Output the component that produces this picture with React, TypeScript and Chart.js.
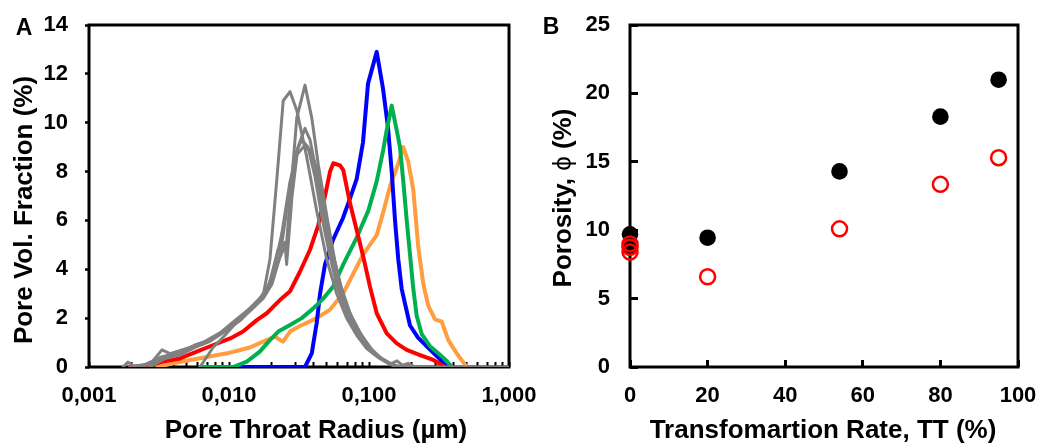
import React, { useEffect, useRef } from "react";
import { Chart, registerables } from "chart.js";
Chart.register(...registerables);

const FONT = '"Liberation Sans", Arial, Helvetica, sans-serif';

// ---------- Panel A : pore throat radius distributions ----------
const majorRadiusTicks = [0.001, 0.01, 0.1, 1];
const majorRadiusLabels = ["0,001", "0,010", "0,100", "1,000"];
const minorMultipliers = [1, 2, 3, 4, 5, 6, 7, 8, 9];
const fractionTicks = [0, 2, 4, 6, 8, 10, 12, 14];

const blueRadius = [0.0107, 0.0349, 0.039, 0.0423, 0.0447, 0.0485, 0.0553, 0.0652, 0.0732, 0.0817, 0.0906, 0.0984, 0.1135, 0.1259, 0.1367, 0.1453, 0.1534, 0.1619, 0.1712, 0.1807, 0.1963, 0.2239, 0.2639, 0.3111, 0.3607];
const blueFraction = [0, 0, 0.56, 1.8, 3.0, 4.2, 5.2, 6.1, 6.9, 7.7, 9.2, 11.6, 12.9, 11.4, 9.8, 8.0, 6.0, 4.4, 3.2, 2.6, 1.7, 1.2, 0.8, 0.4, 0];

const greenRadius = [0.00621, 0.0107, 0.0134, 0.0166, 0.0196, 0.0225, 0.0273, 0.0331, 0.04, 0.0472, 0.0556, 0.0655, 0.0817, 0.0989, 0.1135, 0.1265, 0.1338, 0.1453, 0.1577, 0.1665, 0.1758, 0.1859, 0.1963, 0.2072, 0.2191, 0.2379, 0.2727, 0.3215, 0.3589, 0.3896];
const greenFraction = [0, 0, 0.22, 0.63, 1.1, 1.45, 1.72, 2.0, 2.4, 2.8, 3.3, 4.2, 5.3, 6.4, 7.6, 8.9, 9.7, 10.7, 9.7, 9.0, 7.6, 6.0, 4.6, 3.2, 2.1, 1.35, 0.85, 0.5, 0.25, 0];

const orangeRadius = [0.00306, 0.00398, 0.00621, 0.00968, 0.0141, 0.0175, 0.0213, 0.0243, 0.0273, 0.0321, 0.0423, 0.0527, 0.0652, 0.0769, 0.0906, 0.1135, 0.1259, 0.1413, 0.1611, 0.1758, 0.1908, 0.2072, 0.225, 0.2443, 0.2652, 0.296, 0.3306, 0.3685, 0.4231, 0.4988];
const orangeFraction = [0, 0.15, 0.36, 0.56, 0.8, 1.04, 1.24, 1.04, 1.45, 1.68, 2.0, 2.35, 3.0, 3.8, 4.6, 5.4, 6.3, 7.4, 8.3, 9.0, 8.4, 7.25, 4.9, 3.4, 2.5, 1.95, 1.86, 1.1, 0.56, 0];

const redRadius = [0.00196, 0.00273, 0.00339, 0.00447, 0.00588, 0.00773, 0.0102, 0.0126, 0.0158, 0.0186, 0.0231, 0.0273, 0.0321, 0.0379, 0.0434, 0.0485, 0.0527, 0.0556, 0.0621, 0.0655, 0.0732, 0.0817, 0.0911, 0.1016, 0.1135, 0.1338, 0.1577, 0.1859, 0.2314, 0.288, 0.3491];
const redFraction = [0, 0.07, 0.22, 0.35, 0.63, 0.9, 1.17, 1.45, 1.92, 2.2, 2.74, 3.1, 3.9, 4.8, 5.8, 7.0, 8.0, 8.34, 8.25, 8.06, 6.7, 5.6, 4.5, 3.29, 2.2, 1.38, 0.97, 0.7, 0.49, 0.29, 0];

const gray1Radius = [0.00175, 0.0019, 0.00213, 0.00273, 0.00332, 0.00379, 0.00527, 0.00674, 0.00863, 0.011, 0.0141, 0.0175, 0.0196, 0.0219, 0.0244, 0.0273, 0.0305, 0.0359, 0.0423, 0.0499, 0.0588, 0.0693, 0.0817, 0.0963, 0.1159, 0.1367, 0.1559, 1.0];
const gray1Fraction = [0, 0.2, 0, 0.1, 0.7, 0.55, 0.8, 1.05, 1.4, 1.9, 2.4, 2.9, 4.4, 7.6, 10.9, 11.27, 10.5, 8.6, 6.4, 4.4, 3.0, 2.0, 1.3, 0.75, 0.4, 0.15, 0, 0];

const gray2Radius = [0.00196, 0.00251, 0.00322, 0.00411, 0.00527, 0.00674, 0.00863, 0.011, 0.0141, 0.0175, 0.0203, 0.0231, 0.0258, 0.0305, 0.0349, 0.039, 0.0434, 0.0499, 0.0572, 0.0652, 0.0769, 0.0906, 0.1068, 0.1259, 0.1484, 0.1665];
const gray2Fraction = [0, 0.1, 0.3, 0.5, 0.75, 1.0, 1.35, 1.8, 2.3, 2.8, 3.4, 4.5, 5.1, 10.2, 11.54, 10.2, 8.3, 6.2, 4.3, 2.9, 1.9, 1.2, 0.65, 0.3, 0.1, 0];

const gray3Radius = [0.00231, 0.00322, 0.00447, 0.00572, 0.00732, 0.00936, 0.012, 0.0153, 0.019, 0.0224, 0.0251, 0.0258, 0.0282, 0.0311, 0.0349, 0.0379, 0.0423, 0.0485, 0.0553, 0.0631, 0.0732, 0.0863, 0.1016, 0.1198, 0.1413, 0.1585, 0.1749, 0.1963];
const gray3Fraction = [0, 0.4, 0.6, 0.9, 1.1, 1.5, 2.0, 2.5, 3.2, 4.8, 5.1, 4.2, 7.0, 9.0, 9.77, 9.3, 7.9, 6.0, 4.4, 3.1, 2.0, 1.3, 0.75, 0.35, 0.12, 0.25, 0.05, 0];

const gray4Radius = [0.00273, 0.00349, 0.00447, 0.00572, 0.00732, 0.00936, 0.012, 0.0153, 0.019, 0.0231, 0.0264, 0.0296, 0.0331, 0.0367, 0.0411, 0.0462, 0.0527, 0.0601, 0.0696, 0.0821, 0.0968, 0.114, 0.1367, 0.1611, 0.1899, 0.2131];
const gray4Fraction = [0, 0.35, 0.5, 0.8, 1.05, 1.45, 1.9, 2.5, 3.3, 4.5, 6.8, 8.7, 9.3, 9.0, 7.8, 6.1, 4.5, 3.2, 2.2, 1.4, 0.85, 0.45, 0.18, 0, 0.15, 0];

const gray5Radius = [0.00621, 0.00769, 0.00936, 0.0116, 0.0141, 0.0172, 0.0203, 0.0239, 0.0273, 0.0306, 0.0339, 0.0379, 0.0432, 0.0485, 0.0553, 0.0631, 0.0732, 0.0863, 0.1016, 0.1198, 0.1413, 0.1665];
const gray5Fraction = [0, 0.8, 1.3, 1.9, 2.4, 2.9, 3.6, 5.5, 7.6, 8.7, 9.0, 8.9, 8.0, 6.3, 4.6, 3.3, 2.2, 1.4, 0.8, 0.4, 0.15, 0];

// ---------- Panel B : porosity vs transformation rate ----------
const ttTicks = [0, 20, 40, 60, 80, 100];
const porosityTicks = [0, 5, 10, 15, 20, 25];
const ttFilled = [0, 0, 20, 54, 80, 95];
const porosityFilled = [9.7, 8.8, 9.45, 14.3, 18.3, 21.0];
const ttOpen = [0, 0, 0, 20, 54, 80, 95];
const porosityOpen = [9.0, 8.75, 8.4, 6.6, 10.1, 13.35, 15.3];

const zip = (xs: number[], ys: number[]) => xs.map((x, i) => ({ x, y: ys[i] }));

const radiusTickValues: number[] = [];
majorRadiusTicks.slice(0, 3).forEach((m) => minorMultipliers.forEach((k) => radiusTickValues.push(+(m * k).toPrecision(6))));
radiusTickValues.push(majorRadiusTicks[3]);

const radiusLabel = (v: number) => {
  const i = majorRadiusTicks.findIndex((m) => Math.abs(v / m - 1) < 1e-6);
  return i >= 0 ? majorRadiusLabels[i] : "";
};

const noScalePadding = (s: any) => {
  s.paddingLeft = 0;
  s.paddingRight = 0;
  s.paddingTop = 0;
  s.paddingBottom = 0;
};

const boxPlugin = {
  id: "box",
  beforeDatasetsDraw(chart: any) {
    const { ctx, chartArea } = chart;
    const { left, top, right, bottom } = chartArea;
    ctx.save();
    ctx.lineWidth = 3;
    ctx.strokeStyle = "#000";
    ctx.strokeRect(left, top, right - left, bottom - top);
    ctx.restore();
  },
};

type Seg = { t: string; bold?: boolean };
type TextItem = { parts: Seg[]; x: number; y: number; size: number; rotate?: boolean };
const textPlugin = (items: TextItem[]) => ({
  id: "texts",
  afterDraw(chart: any) {
    const ctx = chart.ctx;
    ctx.save();
    ctx.fillStyle = "#000";
    ctx.textAlign = "left";
    ctx.textBaseline = "middle";
    for (const it of items) {
      const fontOf = (s: Seg) => `${s.bold === false ? "normal" : "bold"} ${it.size}px ${FONT}`;
      let total = 0;
      const widths = it.parts.map((s) => {
        ctx.font = fontOf(s);
        const w = ctx.measureText(s.t).width;
        total += w;
        return w;
      });
      ctx.save();
      ctx.translate(it.x, it.y);
      if (it.rotate) ctx.rotate(-Math.PI / 2);
      let cx = -total / 2;
      it.parts.forEach((s, i) => {
        ctx.font = fontOf(s);
        ctx.fillText(s.t, cx, 0);
        cx += widths[i];
      });
      ctx.restore();
    }
    ctx.restore();
  },
});

const tickFont = { family: FONT, size: 22, weight: "bold" as const };

function PanelA() {
  const ref = useRef<HTMLCanvasElement>(null);
  useEffect(() => {
    const gray = "#808080";
    const grayRuns = [
      [gray1Radius, gray1Fraction],
      [gray2Radius, gray2Fraction],
      [gray3Radius, gray3Fraction],
      [gray4Radius, gray4Fraction],
      [gray5Radius, gray5Fraction],
    ];
    const datasets: any[] = [
      ...grayRuns.map(([r, f]) => ({ data: zip(r, f), borderColor: gray, borderWidth: 3 })),
      { data: zip(redRadius, redFraction), borderColor: "#ff0000", borderWidth: 4 },
      { data: zip(greenRadius, greenFraction), borderColor: "#00b050", borderWidth: 4 },
      { data: zip(blueRadius, blueFraction), borderColor: "#0000ff", borderWidth: 4 },
      { data: zip(orangeRadius, orangeFraction), borderColor: "#ff9d3f", borderWidth: 4 },
    ];
    const chart = new Chart(ref.current!, {
      type: "line",
      data: { datasets },
      options: {
        animation: false,
        responsive: false,
        events: [],
        layout: { padding: { top: 25, right: 36, left: 0, bottom: 0 } },
        elements: { point: { radius: 0 }, line: { tension: 0, borderJoinStyle: "round", borderCapStyle: "round" } },
        plugins: { legend: { display: false }, tooltip: { enabled: false } },
        scales: {
          x: {
            type: "logarithmic",
            min: 0.001,
            max: 1,
            afterBuildTicks: (s: any) => {
              s.ticks = radiusTickValues.map((v) => ({ value: v }));
            },
            afterFit: (s: any) => {
              s.height = 77;
              noScalePadding(s);
            },
            border: { display: false },
            grid: { drawOnChartArea: false, drawTicks: true, tickLength: -5, tickWidth: 2, tickColor: "#000" },
            ticks: {
              autoSkip: false,
              maxRotation: 0,
              minRotation: 0,
              padding: 21,
              color: "#000",
              font: tickFont,
              callback: (v: any) => radiusLabel(Number(v)),
            },
          },
          y: {
            min: 0,
            max: 14,
            afterBuildTicks: (s: any) => {
              s.ticks = fractionTicks.map((v) => ({ value: v }));
            },
            afterFit: (s: any) => {
              s.width = 89;
              noScalePadding(s);
            },
            border: { display: false },
            grid: { drawOnChartArea: false, drawTicks: true, tickLength: 4, tickWidth: 2.5, tickColor: "#000" },
            ticks: { padding: 17, color: "#000", font: tickFont },
          },
        },
      },
      plugins: [
        boxPlugin,
        textPlugin([
          { parts: [{ t: "A" }], x: 24, y: 29, size: 23 },
          { parts: [{ t: "Pore Throat Radius (µm)" }], x: 316, y: 431, size: 26 },
          { parts: [{ t: "Pore Vol. Fraction (%)" }], x: 25, y: 210, size: 26, rotate: true },
        ]),
      ],
    });
    return () => chart.destroy();
  }, []);
  return <canvas ref={ref} width={545} height={444} style={{ position: "absolute", left: 0, top: 0 }} />;
}

function PanelB() {
  const ref = useRef<HTMLCanvasElement>(null);
  useEffect(() => {
    const chart = new Chart(ref.current!, {
      type: "scatter",
      data: {
        datasets: [
          {
            data: zip(ttOpen, porosityOpen),
            clip: false,
            pointRadius: 7.5,
            pointBorderWidth: 2.5,
            pointBorderColor: "#ff0000",
            pointBackgroundColor: "rgba(0,0,0,0)",
          },
          {
            data: zip(ttFilled, porosityFilled),
            clip: false,
            pointRadius: 8.3,
            pointBorderWidth: 0,
            pointBackgroundColor: "#000",
            pointBorderColor: "#000",
          },
        ],
      },
      options: {
        animation: false,
        responsive: false,
        events: [],
        layout: { padding: { top: 25, right: 20, left: 0, bottom: 0 } },
        plugins: { legend: { display: false }, tooltip: { enabled: false } },
        scales: {
          x: {
            type: "linear",
            min: 0,
            max: 100,
            afterBuildTicks: (s: any) => {
              s.ticks = ttTicks.map((v) => ({ value: v }));
            },
            afterFit: (s: any) => {
              s.height = 77;
              noScalePadding(s);
            },
            border: { display: false },
            grid: { drawOnChartArea: false, drawTicks: true, tickLength: -7, tickWidth: 3, tickColor: "#000" },
            ticks: { autoSkip: false, maxRotation: 0, padding: 23, color: "#000", font: tickFont },
          },
          y: {
            min: 0,
            max: 25,
            afterBuildTicks: (s: any) => {
              s.ticks = porosityTicks.map((v) => ({ value: v }));
            },
            afterFit: (s: any) => {
              s.width = 110;
              noScalePadding(s);
            },
            border: { display: false },
            grid: { drawOnChartArea: false, drawTicks: true, tickLength: -8, tickWidth: 3, tickColor: "#000" },
            ticks: { padding: 28, color: "#000", font: tickFont },
          },
        },
      },
      plugins: [
        boxPlugin,
        textPlugin([
          { parts: [{ t: "B" }], x: 31, y: 28, size: 23 },
          { parts: [{ t: "Transfomartion Rate, TT (%)" }], x: 303, y: 431, size: 26 },
          { parts: [{ t: "Porosity, " }, { t: "ϕ", bold: false }, { t: " (%)" }], x: 44, y: 198, size: 26, rotate: true },
        ]),
      ],
    });
    return () => chart.destroy();
  }, []);
  return <canvas ref={ref} width={518} height={444} style={{ position: "absolute", left: 520, top: 0 }} />;
}

export default function App() {
  return (
    <div style={{ position: "fixed", left: 0, top: 0, width: 1038, height: 444, background: "#fff", overflow: "hidden" }}>
      <PanelA />
      <PanelB />
    </div>
  );
}
